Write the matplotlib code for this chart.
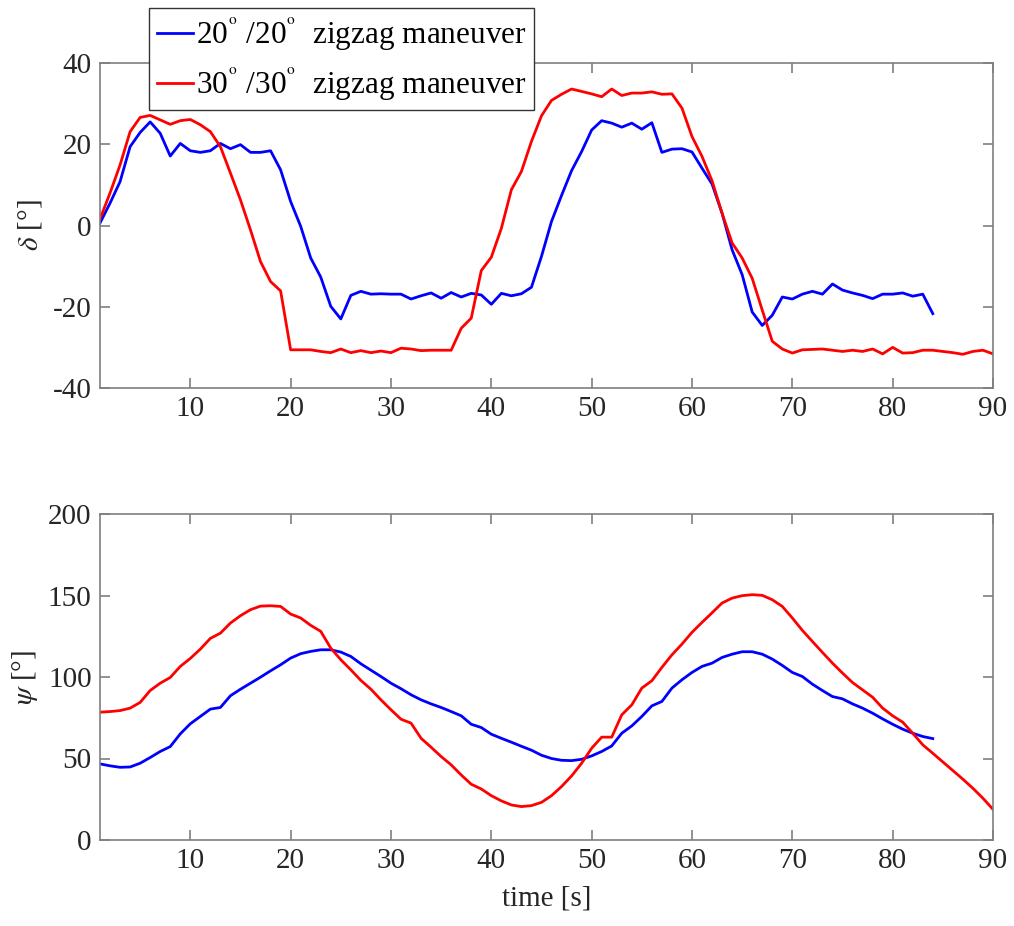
import matplotlib
matplotlib.use("Agg")
import matplotlib.pyplot as plt
import numpy as np

plt.rcParams['font.family'] = ['Liberation Serif', 'DejaVu Serif']
plt.rcParams['mathtext.fontset'] = 'stix'
plt.rcParams['axes.unicode_minus'] = False

# time axis (s)
t_20 = list(range(1, 85))
t_30 = list(range(1, 91))

# rudder angle delta [deg]
delta_20 = [0.6, 5.5, 10.8, 19.4, 22.9, 25.5, 22.7, 17.1, 20.2, 18.4,
            18.0, 18.4, 20.2, 18.9, 19.9, 18.0, 18.0, 18.4, 13.7, 5.9,
            -0.2, -8.0, -12.7, -19.9, -23.0, -17.2, -16.2, -16.9, -16.8, -16.9,
            -16.9, -18.1, -17.3, -16.6, -17.9, -16.5, -17.6, -16.7, -17.1, -19.4,
            -16.7, -17.3, -16.8, -15.2, -7.6, 1.0, 7.4, 13.5, 18.2, 23.5,
            25.8, 25.2, 24.2, 25.2, 23.7, 25.3, 18.0, 18.8, 18.9, 18.1,
            14.1, 10.2, 3.0, -6.0, -12.1, -21.3, -24.6, -22.1, -17.6, -18.1,
            -16.9, -16.2, -16.9, -14.4, -15.9, -16.6, -17.2, -18.0, -16.9, -16.9,
            -16.6, -17.4, -16.9, -21.7]
delta_30 = [1.6, 8.0, 14.9, 23.1, 26.6, 27.1, 26.0, 24.9, 25.8, 26.1,
            24.8, 23.1, 19.4, 12.9, 6.3, -1.1, -8.9, -13.8, -16.1, -30.6,
            -30.6, -30.6, -31.0, -31.3, -30.4, -31.3, -30.8, -31.3, -30.9, -31.3,
            -30.2, -30.4, -30.8, -30.7, -30.7, -30.7, -25.3, -22.8, -11.1, -7.8,
            -0.7, 8.8, 13.3, 20.7, 27.0, 30.8, 32.3, 33.6, 33.0, 32.4,
            31.7, 33.6, 32.0, 32.6, 32.6, 32.9, 32.3, 32.4, 28.9, 21.9,
            17.0, 11.0, 3.0, -4.3, -8.0, -13.0, -20.8, -28.5, -30.4, -31.4,
            -30.6, -30.5, -30.4, -30.7, -31.0, -30.7, -31.0, -30.4, -31.6, -30.0,
            -31.4, -31.3, -30.7, -30.7, -31.0, -31.3, -31.7, -31.0, -30.7, -31.6]

# heading psi [deg]
psi_20 = [46.7, 45.5, 44.6, 44.8, 47.1, 50.6, 54.3, 57.3, 65.1, 71.3,
          75.8, 80.3, 81.3, 88.5, 92.5, 96.2, 99.9, 103.8, 107.5, 111.6,
          114.3, 115.7, 116.7, 116.7, 115.3, 112.6, 108.1, 104.2, 100.3, 96.2,
          92.8, 89.1, 86.0, 83.5, 81.3, 78.8, 76.2, 71.0, 69.0, 64.9,
          62.4, 60.0, 57.5, 55.1, 52.0, 50.0, 48.9, 48.7, 49.5, 51.6,
          54.3, 57.7, 65.5, 70.0, 75.8, 82.3, 85.0, 93.2, 98.3, 102.8,
          106.5, 108.5, 112.0, 114.0, 115.5, 115.5, 114.0, 111.0, 107.1, 102.8,
          100.3, 95.6, 91.7, 88.0, 86.6, 83.5, 80.9, 77.8, 74.3, 71.0,
          68.0, 65.5, 63.5, 62.2]
psi_30 = [78.4, 78.8, 79.4, 80.9, 84.4, 91.7, 96.2, 99.7, 106.5, 111.4,
          117.1, 123.7, 126.9, 133.1, 137.6, 141.3, 143.5, 143.7, 143.3, 138.6,
          136.2, 131.7, 128.0, 117.7, 110.6, 104.4, 97.9, 92.5, 86.0, 79.9,
          74.1, 71.7, 62.4, 56.9, 51.2, 46.1, 39.9, 34.2, 31.3, 27.2,
          24.0, 21.5, 20.5, 21.1, 23.1, 27.2, 32.8, 39.3, 47.1, 56.3,
          63.1, 63.1, 76.8, 82.9, 93.2, 97.7, 105.9, 113.6, 120.2, 127.4,
          133.5, 139.4, 145.4, 148.4, 149.9, 150.5, 150.1, 147.4, 143.3, 136.2,
          128.6, 121.8, 115.1, 108.5, 102.4, 96.6, 92.1, 87.6, 80.9, 76.2,
          72.3, 65.5, 58.4, 53.2, 47.9, 42.6, 37.3, 31.7, 25.6, 18.8]

labels = [r'20$^{^{\mathrm{o}}}$ /20$^{^{\mathrm{o}}}$  zigzag maneuver',
          r'30$^{^{\mathrm{o}}}$ /30$^{^{\mathrm{o}}}$  zigzag maneuver']
xticks = [10, 20, 30, 40, 50, 60, 70, 80, 90]
yticks_top = [-40, -20, 0, 20, 40]
yticks_bot = [0, 50, 100, 150, 200]

W, H = 1014, 926
fig = plt.figure(figsize=(W / 100, H / 100), dpi=100)
ax1 = fig.add_axes([100 / W, 1 - 388 / H, 893 / W, 325 / H])
ax2 = fig.add_axes([100 / W, 1 - 840 / H, 893 / W, 326 / H])

fs = 21
spine_col = '#7f7f7f'
for ax in (ax1, ax2):
    for s in ax.spines.values():
        s.set_color(spine_col)
        s.set_linewidth(1.2)
    ax.tick_params(direction='in', top=True, right=True, length=7,
                   width=1.2, color=spine_col, labelsize=fs, labelcolor='#262626',
                   pad=6)
    ax.set_xlim(1, 90)
    ax.set_xticks(xticks)

l1, = ax1.plot(t_20, delta_20, color='#0000ff', lw=2)
l2, = ax1.plot(t_30, delta_30, color='#ff0000', lw=2)
ax1.set_ylim(-40, 40)
ax1.set_yticks(yticks_top)
ax1.set_ylabel(r'$\delta$ [°]', fontsize=fs, color='#262626', labelpad=6)

ax2.plot(t_20, psi_20, color='#0000ff', lw=2)
ax2.plot(t_30, psi_30, color='#ff0000', lw=2)
ax2.set_ylim(0, 200)
ax2.set_yticks(yticks_bot)
ax2.set_ylabel(r'$\psi$ [°]', fontsize=fs, color='#262626', labelpad=6)
ax2.set_xlabel('time [s]', fontsize=fs, color='#262626', labelpad=8)

leg = fig.legend([l1, l2], labels, loc='upper left',
                 bbox_to_anchor=(149 / W, 1 - 8 / H), fontsize=22.5,
                 fancybox=False, framealpha=1, edgecolor='#333333',
                 handlelength=1.15, handletextpad=0.1, borderpad=0.25,
                 labelspacing=0.4, borderaxespad=0)
leg.get_frame().set_linewidth(1.0)

fig.savefig('out.png', dpi=100)
